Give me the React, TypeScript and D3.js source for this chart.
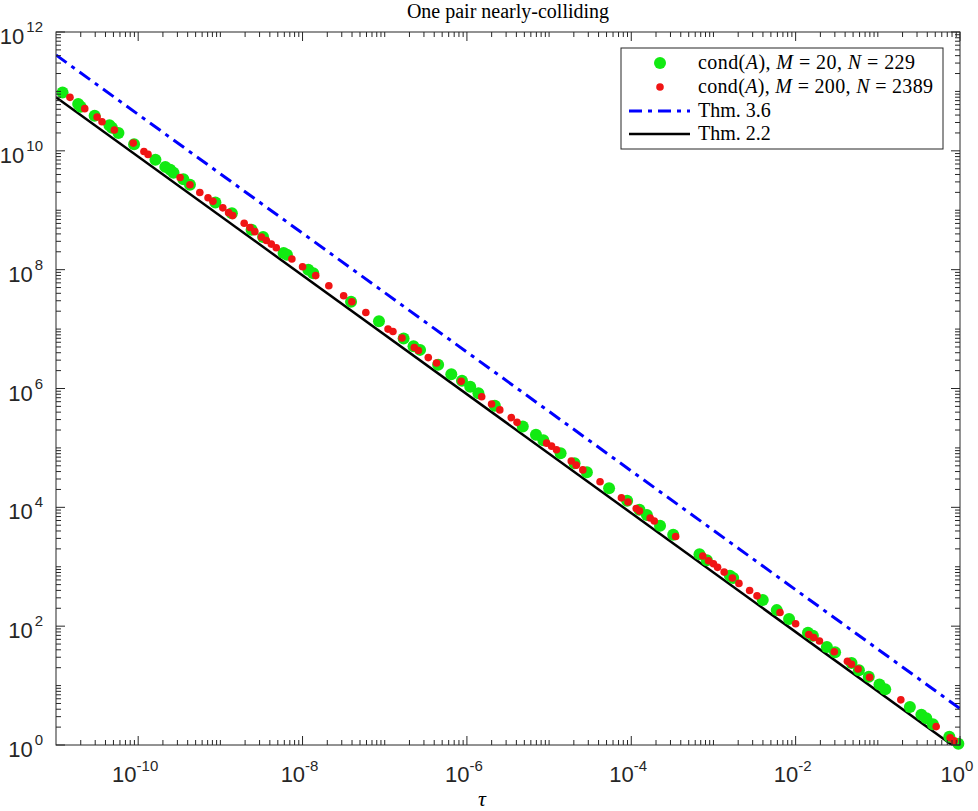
import React from 'react';
import * as d3 from 'd3';

// log10 values
const greenLogTau = [
  -10.92, -10.73, -10.70, -10.53, -10.35, -10.32, -10.24, -10.05, -9.79, -9.67,
  -9.61, -9.57, -9.45, -9.37, -9.06, -8.86, -8.62, -8.48, -8.23, -8.19,
  -7.93, -7.87, -7.41, -7.07, -6.77, -6.65, -6.57, -6.35, -6.19, -6.06,
  -5.96, -5.86, -5.66, -5.32, -5.16, -5.07, -4.86, -4.69, -4.54, -4.27,
  -4.05, -3.90, -3.81, -3.65, -3.49, -3.17, -3.08, -2.80, -2.76, -2.40,
  -2.23, -2.08, -1.85, -1.79, -1.62, -1.52, -1.32, -1.23, -1.11, -0.98,
  -0.91, -0.61, -0.47, -0.41, -0.33, -0.13, -0.02,
];
const greenLogCond = [
  10.98, 10.79, 10.74, 10.59, 10.43, 10.39, 10.30, 10.11, 9.85, 9.73,
  9.68, 9.63, 9.52, 9.43, 9.13, 8.95, 8.67, 8.55, 8.28, 8.25,
  8.00, 7.94, 7.46, 7.13, 6.84, 6.71, 6.65, 6.40, 6.24, 6.13,
  6.03, 5.92, 5.71, 5.36, 5.22, 5.13, 4.91, 4.74, 4.59, 4.32,
  4.11, 3.96, 3.87, 3.69, 3.54, 3.21, 3.11, 2.85, 2.81, 2.44,
  2.27, 2.12, 1.89, 1.84, 1.65, 1.56, 1.38, 1.26, 1.15, 1.02,
  0.94, 0.64, 0.51, 0.45, 0.35, 0.14, 0.02,
];
const redLogTau = [
  -10.83, -10.65, -10.50, -10.44, -10.29, -10.06, -9.93, -9.88, -9.49, -9.37,
  -9.25, -9.15, -9.09, -8.97, -8.90, -8.85, -8.71, -8.64, -8.58, -8.50,
  -8.44, -8.38, -8.32, -8.13, -8.00, -7.84, -7.68, -7.50, -7.40, -7.23,
  -6.96, -6.90, -6.79, -6.64, -6.59, -6.47, -6.37, -6.07, -5.82, -5.70,
  -5.60, -5.46, -5.39, -5.03, -4.97, -4.91, -4.73, -4.67, -4.59, -4.38,
  -4.12, -4.04, -3.94, -3.90, -3.77, -3.72, -3.46, -3.13, -3.06, -3.00,
  -2.95, -2.87, -2.77, -2.69, -2.56, -2.47, -2.19, -2.00, -1.84, -1.78,
  -1.71, -1.53, -1.37, -1.32, -1.24, -1.10, -0.72, -0.29, -0.12, -0.07,
];
const redLogCond = [
  10.90, 10.71, 10.57, 10.49, 10.35, 10.13, 9.99, 9.94, 9.55, 9.43,
  9.30, 9.21, 9.15, 9.04, 8.96, 8.91, 8.78, 8.71, 8.64, 8.55,
  8.49, 8.43, 8.37, 8.18, 8.05, 7.90, 7.73, 7.56, 7.46, 7.28,
  7.00, 6.96, 6.85, 6.69, 6.64, 6.52, 6.43, 6.12, 5.86, 5.74,
  5.64, 5.51, 5.43, 5.08, 5.03, 4.97, 4.78, 4.71, 4.63, 4.43,
  4.16, 4.09, 3.98, 3.94, 3.82, 3.77, 3.51, 3.18, 3.10, 3.05,
  2.99, 2.91, 2.81, 2.72, 2.60, 2.51, 2.23, 2.04, 1.86, 1.81,
  1.75, 1.57, 1.41, 1.36, 1.28, 1.14, 0.76, 0.31, 0.12, 0.07,
];

// theoretical bounds (end points)
const thm36Tau = [1e-11, 1];
const thm36Cond = [4.1e11, 4.1];
const thm22Tau = [1e-11, 1];
const thm22Cond = [8e10, 0.8];

const xTickExps = [-10, -8, -6, -4, -2, 0];
const yTickExps = [0, 2, 4, 6, 8, 10, 12];

const W = 978;
const H = 811;
const L = 56, R = 960, T = 32, B = 745;
const AX = '#262626';
const GREEN = '#12ea12';
const RED = '#f01414';

const App = () => {
  const x = d3.scaleLog().domain([1e-11, 1]).range([L, R]);
  const y = d3.scaleLog().domain([1, 1e12]).range([B, T]);

  const green = greenLogTau.map((t, i) => ({ tau: 10 ** t, cond: 10 ** greenLogCond[i] }));
  const red = redLogTau.map((t, i) => ({ tau: 10 ** t, cond: 10 ** redLogCond[i] }));

  const line = d3.line<[number, number]>().x(d => x(d[0])).y(d => y(d[1]));
  const l36 = line(thm36Tau.map((t, i) => [t, thm36Cond[i]] as [number, number])) || '';
  const l22 = line(thm22Tau.map((t, i) => [t, thm22Cond[i]] as [number, number])) || '';

  // ticks
  const xDecades = d3.range(-11, 1);
  const yDecades = d3.range(0, 13);
  const xMinor: number[] = [];
  xDecades.forEach(e => {
    for (let k = 2; k <= 9; k++) if (e < 0) xMinor.push(k * 10 ** e);
    if (!xTickExps.includes(e) && e > -11) xMinor.push(10 ** e);
  });
  const yMinor: number[] = [];
  yDecades.forEach(e => {
    for (let k = 2; k <= 9; k++) if (e < 12) yMinor.push(k * 10 ** e);
    if (!yTickExps.includes(e)) yMinor.push(10 ** e);
  });
  const MAJ = 9, MIN = 5;

  const tickFont = '"Liberation Sans", Arial, sans-serif';
  const serif = '"Liberation Serif", "DejaVu Serif", serif';

  return (
    <svg width={W} height={H} style={{ position: 'absolute', left: 0, top: 0, background: '#fff' }}
      xmlns="http://www.w3.org/2000/svg">
      <defs>
        <clipPath id="plotArea">
          <rect x={L} y={T} width={R - L} height={B - T} />
        </clipPath>
      </defs>
      <rect x={0} y={0} width={W} height={H} fill="#fff" />

      {/* lines */}
      <g clipPath="url(#plotArea)" fill="none">
        <path d={l36} stroke="#0000ff" strokeWidth={3} strokeDasharray="13,6,4,6" />
        <path d={l22} stroke="#000" strokeWidth={2.5} />
      </g>

      {/* markers */}
      <g>
        {green.map((d, i) => (
          <circle key={'g' + i} cx={x(d.tau)} cy={y(d.cond)} r={6} fill={GREEN} />
        ))}
        {red.map((d, i) => (
          <circle key={'r' + i} cx={x(d.tau)} cy={y(d.cond)} r={3.8} fill={RED} />
        ))}
      </g>

      {/* axes box and ticks */}
      <g stroke={AX} strokeWidth={1}>
        <rect x={L} y={T} width={R - L} height={B - T} fill="none" />
        {xTickExps.map(e => {
          const px = x(10 ** e);
          return (
            <g key={'xM' + e}>
              <line x1={px} x2={px} y1={B} y2={B - MAJ} />
              <line x1={px} x2={px} y1={T} y2={T + MAJ} />
            </g>
          );
        })}
        {xMinor.map((v, i) => {
          const px = x(v);
          return (
            <g key={'xm' + i}>
              <line x1={px} x2={px} y1={B} y2={B - MIN} />
              <line x1={px} x2={px} y1={T} y2={T + MIN} />
            </g>
          );
        })}
        {yTickExps.map(e => {
          const py = y(10 ** e);
          return (
            <g key={'yM' + e}>
              <line x1={L} x2={L + MAJ} y1={py} y2={py} />
              <line x1={R} x2={R - MAJ} y1={py} y2={py} />
            </g>
          );
        })}
        {yMinor.map((v, i) => {
          const py = y(v);
          return (
            <g key={'ym' + i}>
              <line x1={L} x2={L + MIN} y1={py} y2={py} />
              <line x1={R} x2={R - MIN} y1={py} y2={py} />
            </g>
          );
        })}
      </g>

      {/* tick labels */}
      <g fill={AX} fontFamily={tickFont}>
        {xTickExps.map(e => (
          <text key={'xl' + e} x={x(10 ** e) - 3} y={782} textAnchor="middle" fontSize={22}>
            10<tspan dy={-11} fontSize={15}>{e}</tspan>
          </text>
        ))}
        {yTickExps.map(e => (
          <text key={'yl' + e} x={43} y={y(10 ** e) + 12} textAnchor="end" fontSize={22}>
            10<tspan dx={2} dy={-12} fontSize={15}>{e}</tspan>
          </text>
        ))}
      </g>

      {/* title and axis label */}
      <text x={(L + R) / 2} y={18} textAnchor="middle" fontFamily={serif} fontSize={20} fill="#000">
        One pair nearly-colliding
      </text>
      <text x={482} y={806} textAnchor="middle" fontFamily={serif} fontStyle="italic" fontSize={22} fill="#000">
        τ
      </text>

      {/* legend */}
      <g fontFamily={serif} fontSize={20} fill="#000">
        <rect x={621} y={48} width={322} height={101} fill="#fff" stroke={AX} strokeWidth={1} />
        <circle cx={660} cy={63} r={6} fill={GREEN} />
        <text x={698} y={69} textLength={217} lengthAdjust="spacing">
          cond(<tspan fontStyle="italic">A</tspan>), <tspan fontStyle="italic">M</tspan> = 20, <tspan fontStyle="italic">N</tspan> = 229
        </text>
        <circle cx={660} cy={87} r={3.8} fill={RED} />
        <text x={698} y={93} textLength={235} lengthAdjust="spacing">
          cond(<tspan fontStyle="italic">A</tspan>), <tspan fontStyle="italic">M</tspan> = 200, <tspan fontStyle="italic">N</tspan> = 2389
        </text>
        <line x1={629} x2={690} y1={111} y2={111} stroke="#0000ff" strokeWidth={3} strokeDasharray="13,6,4,6" />
        <text x={698} y={117}>Thm. 3.6</text>
        <line x1={629} x2={690} y1={134} y2={134} stroke="#000" strokeWidth={2.5} />
        <text x={698} y={140}>Thm. 2.2</text>
      </g>
    </svg>
  );
};

export default App;
